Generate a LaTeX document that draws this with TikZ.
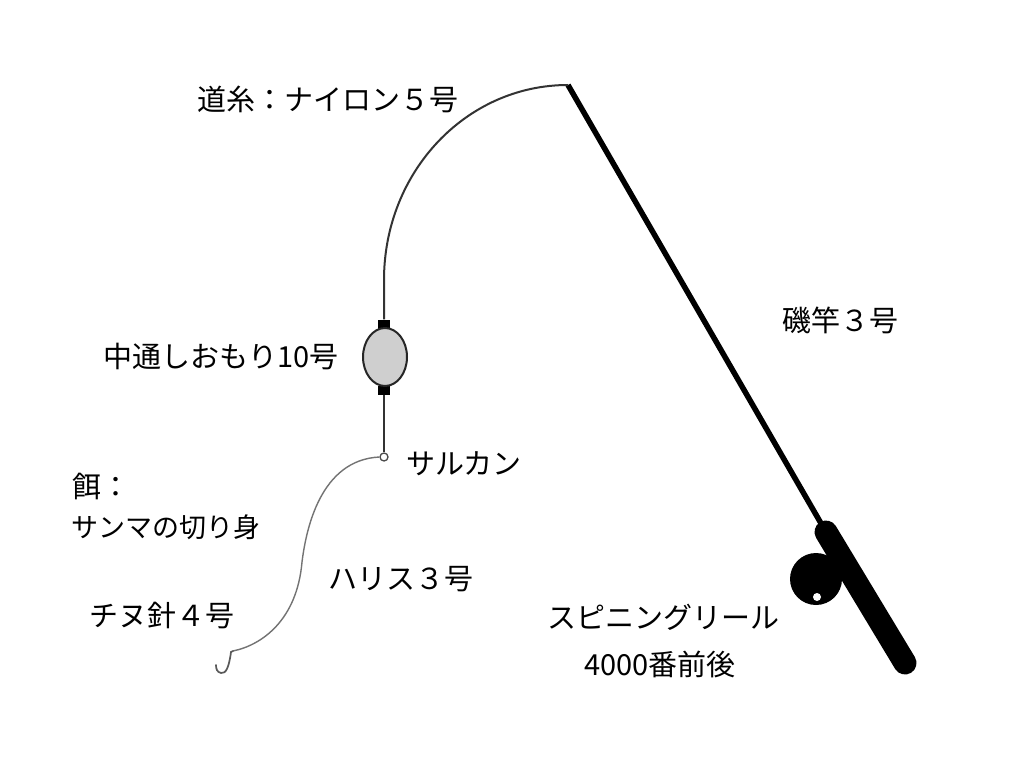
\documentclass[tikz,border=0pt]{standalone}
\usepackage{fontspec}
\setmainfont{Noto Sans CJK JP}
\usetikzlibrary{shapes.geometric}
\begin{document}
\begin{tikzpicture}[x=1pt,y=-1pt,
  lbl/.style={inner sep=0pt,font=\fontsize{29}{34}\selectfont},
  lblsmall/.style={inner sep=0pt,font=\fontsize{27}{32}\selectfont},
  mainline/.style={draw=black!80,line width=2pt},
  leader/.style={draw=black!55,line width=1.4pt},
  stopper/.style={fill=black,draw=none,minimum width=12pt,minimum height=9pt,inner sep=0pt,rectangle}]
\useasboundingbox (0,0) rectangle (1024,778);
\fill[white] (0,0) rectangle (1024,778);
% coordinates
\coordinate (tip) at (568,85);
\coordinate (bend) at (384,280);
\coordinate (hs) at (826,532);
\coordinate (he) at (905,663);
% rod
\draw[line width=5.5pt] (tip) -- (hs);
\node[circle,fill=black,minimum size=52pt,inner sep=0pt] (reel) at (816,579) {};
\draw[line width=23pt,line cap=round] (hs) -- (he);
\node[circle,fill=white,minimum size=8pt,inner sep=0pt] (hole) at (817,597) {};
% sinker
\node[stopper] (stoptop) at (384,324) {};
\node[stopper] (stopbot) at (384,390.5) {};
\node[ellipse,draw=black!85,line width=2pt,fill=black!19,minimum width=44pt,minimum height=58pt,inner sep=0pt] (sinker) at (385,357) {};
\node[circle,draw=black!70,fill=white,line width=1.3pt,minimum size=8pt,inner sep=0pt] (swivel) at (384,457) {};
% main line
\draw[mainline] (stoptop.north) -- (bend) .. controls (384,172) and (466,85) .. (tip);
\draw[mainline] (stopbot.south) -- (swivel.north);
% leader
\coordinate (hk) at (233,651);
\draw[leader] (swivel.west) .. controls (320,460) and (306,530) .. (302,562)
  .. controls (297,620) and (262,645) .. (hk);
\draw[leader,draw=black!65,line width=1.7pt,line cap=round] (hk) -- (231,652) .. controls (229,667) and (226,674) .. (221,673)
  .. controls (217,672) and (216,669) .. (216,665);
% labels
\node[lbl] (l1) at (328,99) {道糸：ナイロン５号};
\node[lbl] (l2) at (840,320) {磯竿３号};
\node[lbl] (l3) at (221,357) {中通しおもり10号};
\node[lbl] (l4) at (464,464) {サルカン};
\node[lbl,anchor=west] (l5) at (72,486) {餌：};
\node[lblsmall,anchor=west] (l6) at (71,527) {サンマの切り身};
\node[lbl] (l7) at (401,579) {ハリス３号};
\node[lbl] (l8) at (162,616) {チヌ針４号};
\node[lbl] (l9) at (663,617) {スピニングリール};
\node[lbl] (l10) at (660,664) {4000番前後};
\end{tikzpicture}
\end{document}
